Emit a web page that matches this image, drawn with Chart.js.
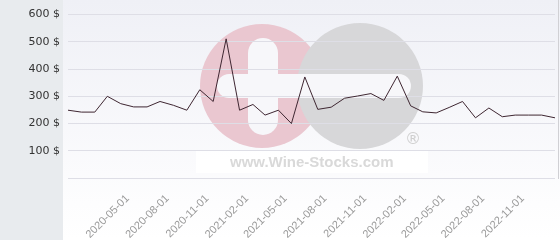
<!DOCTYPE html>
<html>
<head>
<meta charset="utf-8">
<script src="https://cdn.jsdelivr.net/npm/chart.js@4"></script>
<style>
  html, body { margin: 0; padding: 0; background: #ffffff; }
  #wrap { width: 560px; height: 240px; }
  canvas { display: block; }
</style>
</head>
<body>
<div id="wrap"><canvas id="c" width="560" height="240"></canvas></div>
<script>
// ---- data ----
const pointDates = [
  '2019-12-15','2020-01-15','2020-02-15','2020-03-15','2020-04-15','2020-05-15','2020-06-15','2020-07-15',
  '2020-08-15','2020-09-15','2020-10-15','2020-11-15','2020-12-15','2021-01-15','2021-02-15','2021-03-15',
  '2021-04-15','2021-05-15','2021-06-15','2021-07-15','2021-08-15','2021-09-15','2021-10-15','2021-11-15',
  '2021-12-15','2022-01-15','2022-02-15','2022-03-15','2022-04-15','2022-05-15','2022-06-15','2022-07-15',
  '2022-08-15','2022-09-15','2022-10-15','2022-11-15','2022-12-15','2023-01-15'
];
const prices = [
  249, 242, 242, 300, 273, 261, 261, 281,
  267, 249, 324, 281, 511, 249, 270, 231,
  249, 200, 371, 252, 260, 293, 301, 310,
  285, 374, 265, 243, 239, 259, 281, 221,
  257, 225, 231, 231, 231, 221
];
const xTickLabels = [
  '2020-05-01','2020-08-01','2020-11-01','2021-02-01','2021-05-01','2021-08-01',
  '2021-11-01','2022-02-01','2022-05-01','2022-08-01','2022-11-01'
];
const yTicks = [0, 100, 200, 300, 400, 500, 600];
const currency = '$';

// ---- helpers ----
const toDay = s => Date.UTC(+s.slice(0,4), +s.slice(5,7) - 1, +s.slice(8,10)) / 86400000;
const dayLabel = {};
xTickLabels.forEach(s => { dayLabel[toDay(s)] = s; });
const points = pointDates.map((d, i) => ({ x: toDay(d), y: prices[i] }));

const bgPlugin = {
  id: 'bg',
  beforeDraw(chart) {
    const ctx = chart.ctx;
    const W = chart.width, H = chart.height;
    ctx.save();
    const g = ctx.createLinearGradient(0, 0, 0, H);
    g.addColorStop(0, '#eff0f6');
    g.addColorStop(0.85, '#fdfdfe');
    g.addColorStop(1, '#ffffff');
    ctx.fillStyle = g;
    ctx.fillRect(0, 0, W, H);
    ctx.fillStyle = '#e8ebee';
    ctx.fillRect(0, 0, 63, H);

    // watermark logo
    ctx.fillStyle = '#eac7d0';
    ctx.beginPath(); ctx.arc(262, 86, 62, 0, Math.PI * 2); ctx.fill();
    ctx.fillStyle = '#d7d7d9';
    ctx.beginPath(); ctx.arc(360, 86, 63, 0, Math.PI * 2); ctx.fill();
    ctx.fillStyle = '#f7f7fa';
    const rr = (x, y, w, h, r) => {
      ctx.beginPath();
      ctx.roundRect(x, y, w, h, r);
      ctx.fill();
    };
    rr(217, 74, 194, 24, 12);
    rr(248, 38, 30, 97, 15);
    // text box
    ctx.fillStyle = 'rgba(255,255,255,0.85)';
    ctx.fillRect(196, 151, 232, 22);
    ctx.fillStyle = '#d9d9d9';
    ctx.font = 'bold 15px "Liberation Sans", Arial, sans-serif';
    ctx.textBaseline = 'alphabetic';
    ctx.fillText('www.Wine-Stocks.com', 230, 167);
    ctx.font = '16px "DejaVu Sans", sans-serif';
    ctx.fillStyle = '#cfcfcf';
    ctx.textAlign = 'center';
    ctx.textBaseline = 'middle';
    ctx.fillText('\u00AE', 413, 140);
    // right edge line
    ctx.fillStyle = '#d0d0d4';
    ctx.fillRect(558, 0, 1, 179);
    ctx.restore();
  }
};

new Chart(document.getElementById('c'), {
  type: 'line',
  data: {
    datasets: [{
      data: points,
      borderColor: '#3e2631',
      borderWidth: 1,
      pointRadius: 0,
      fill: false,
      tension: 0
    }]
  },
  options: {
    responsive: false,
    animation: false,
    devicePixelRatio: 1,
    layout: { padding: { left: 28, right: 5, top: 10, bottom: 0 } },
    plugins: { legend: { display: false }, tooltip: { enabled: false } },
    scales: {
      x: {
        type: 'linear',
        min: toDay(pointDates[0]),
        max: toDay(pointDates[pointDates.length - 1]),
        afterBuildTicks(scale) {
          scale.ticks = xTickLabels.map(s => ({ value: toDay(s) }));
        },
        afterFit(scale) { scale.height = 62; },
        grid: { display: false, drawTicks: false },
        border: { display: false },
        ticks: {
          autoSkip: false,
          minRotation: 45,
          maxRotation: 45,
          padding: 14,
          color: '#9a9a9a',
          font: { family: '"Liberation Sans", Arial, sans-serif', size: 11 },
          callback: v => dayLabel[v] || ''
        }
      },
      y: {
        min: yTicks[0],
        max: yTicks[yTicks.length - 1],
        afterBuildTicks(scale) {
          scale.ticks = yTicks.map(v => ({ value: v }));
        },
        afterFit(scale) { scale.width = 40; },
        grid: { color: '#dedee6', lineWidth: 1, drawTicks: false },
        border: { display: false },
        ticks: {
          padding: 8,
          color: '#333333',
          font: { family: '"DejaVu Sans", sans-serif', size: 11 },
          callback: v => v === 0 ? '' : v + ' ' + currency
        }
      }
    }
  },
  plugins: [bgPlugin]
});
</script>
</body>
</html>
